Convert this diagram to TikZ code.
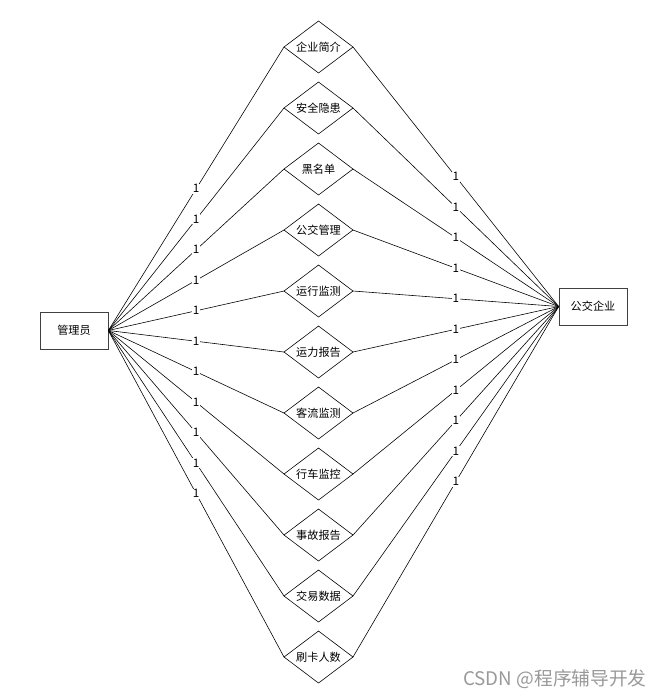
\documentclass[tikz,border=0pt]{standalone}
\usepackage{fontspec}
\setmainfont{Noto Sans CJK SC}
\usetikzlibrary{shapes.geometric,positioning}

\begin{document}
\begin{tikzpicture}[
    x=0.03cm, y=-0.03cm,
    node distance=0.27cm,
    every node/.style={font=\fontsize{9.5}{11}\selectfont},
    entity/.style={rectangle, draw=black!75, line width=0.6pt, fill=white, minimum width=2.04cm, minimum height=1.11cm},
    rel/.style={diamond, shape aspect=1.33, draw, line width=0.5pt, inner sep=0pt, outer sep=0pt, minimum width=2.07cm, minimum height=1.56cm},
    link/.style={line width=0.5pt},
    card/.style={midway, fill=white, inner sep=0.8pt, font=\fontsize{10}{11}\selectfont}
]
    \useasboundingbox (0,0) rectangle (667,698);

    % Entities
    \node[entity] (admin) at (74,330.5) {管理员};
    \node[entity] (firm) at (593,306.5) {公交企业};

    % Relationships
    \node[rel] (intro) at (318.5,47) {企业简介};
    \node[rel, below=of intro] (hazard) {安全隐患};
    \node[rel, below=of hazard] (black) {黑名单};
    \node[rel, below=of black] (busmgr) {公交管理};
    \node[rel, below=of busmgr] (opmon) {运行监测};
    \node[rel, below=of opmon] (capacity) {运力报告};
    \node[rel, below=of capacity] (flow) {客流监测};
    \node[rel, below=of flow] (drive) {行车监控};
    \node[rel, below=of drive] (accident) {事故报告};
    \node[rel, below=of accident] (trade) {交易数据};
    \node[rel, below=of trade] (swipe) {刷卡人数};

    % Admin side
    \draw[link] (admin.east) -- (intro.west) node[card] {1};
    \draw[link] (admin.east) -- (hazard.west) node[card] {1};
    \draw[link] (admin.east) -- (black.west) node[card] {1};
    \draw[link] (admin.east) -- (busmgr.west) node[card] {1};
    \draw[link] (admin.east) -- (opmon.west) node[card] {1};
    \draw[link] (admin.east) -- (capacity.west) node[card] {1};
    \draw[link] (admin.east) -- (flow.west) node[card] {1};
    \draw[link] (admin.east) -- (drive.west) node[card] {1};
    \draw[link] (admin.east) -- (accident.west) node[card] {1};
    \draw[link] (admin.east) -- (trade.west) node[card] {1};
    \draw[link] (admin.east) -- (swipe.west) node[card] {1};

    % Company side
    \draw[link] (intro.east) -- (firm.west) node[card] {1};
    \draw[link] (hazard.east) -- (firm.west) node[card] {1};
    \draw[link] (black.east) -- (firm.west) node[card] {1};
    \draw[link] (busmgr.east) -- (firm.west) node[card] {1};
    \draw[link] (opmon.east) -- (firm.west) node[card] {1};
    \draw[link] (capacity.east) -- (firm.west) node[card] {1};
    \draw[link] (flow.east) -- (firm.west) node[card] {1};
    \draw[link] (drive.east) -- (firm.west) node[card] {1};
    \draw[link] (accident.east) -- (firm.west) node[card] {1};
    \draw[link] (trade.east) -- (firm.west) node[card] {1};
    \draw[link] (swipe.east) -- (firm.west) node[card] {1};

    % Watermark
    \node[text=black!40, font=\fontsize{16}{18}\selectfont] (mark) at (555,679) {CSDN @程序辅导开发};
\end{tikzpicture}
\end{document}
